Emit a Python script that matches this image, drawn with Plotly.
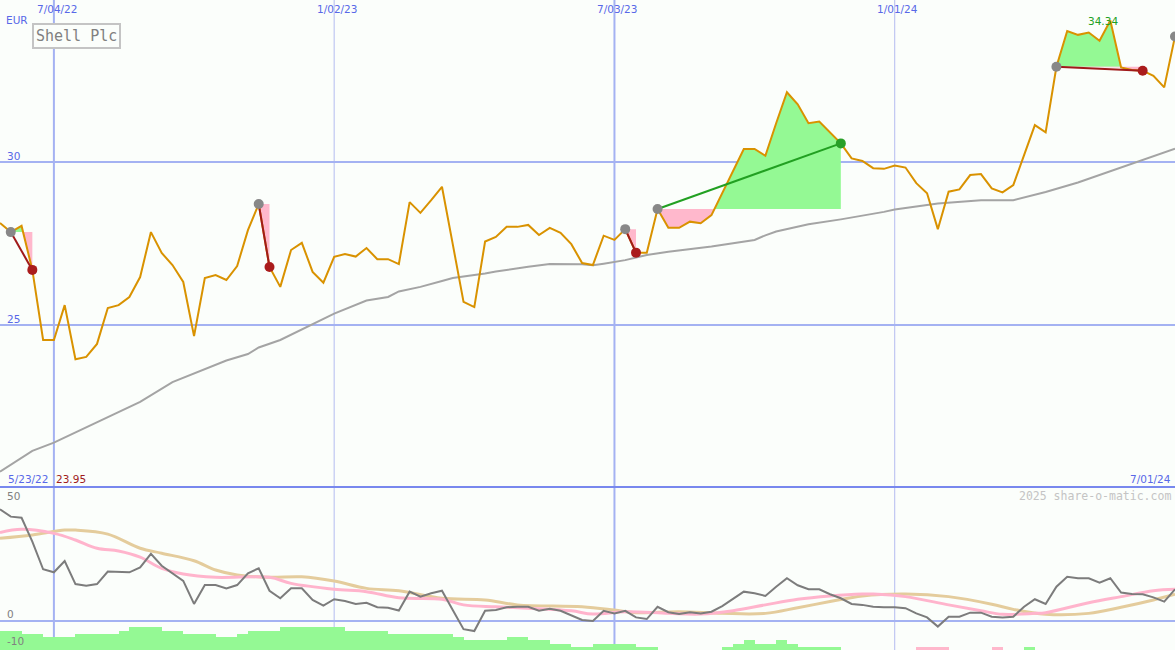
import numpy as np
import pandas as pd
import plotly.graph_objects as go

# ---------------- data ----------------
weeks = pd.date_range("2022-05-30", periods=110, freq="7D")

price = [28.13, 27.85, 28.04, 26.69, 24.54, 24.54, 25.61, 23.95, 24.02, 24.42,
         25.52, 25.61, 25.86, 26.47, 27.85, 27.21, 26.84, 26.32, 24.66, 26.44,
         26.53, 26.38, 26.81, 27.91, 28.71, 26.78, 26.17, 27.30, 27.52, 26.63,
         26.30, 27.09, 27.18, 27.10, 27.36, 27.02, 27.02, 26.87, 28.77, 28.44,
         28.83, 29.24, 27.48, 25.71, 25.55, 27.56, 27.70, 28.01, 28.01, 28.07,
         27.76, 27.98, 27.83, 27.48, 26.90, 26.84, 27.74, 27.61, 27.94, 27.22,
         27.22, 28.56, 27.98, 27.98, 28.17, 28.12, 28.37, 29.06, 29.70, 30.40,
         30.40, 30.19, 31.19, 32.14, 31.77, 31.19, 31.24, 30.90, 30.57, 30.11,
         30.03, 29.81, 29.79, 29.89, 29.83, 29.35, 29.04, 27.94, 29.09, 29.16,
         29.60, 29.63, 29.19, 29.07, 29.29, 30.21, 31.13, 30.91, 32.92, 34.02,
         33.90, 33.97, 33.72, 34.34, 32.90, 32.82, 32.80, 32.64, 32.29, 33.85]

ma_weeks = [0, 3, 5, 8, 11, 13, 16, 18, 21, 23, 24, 26, 29, 31, 34, 36, 37, 39, 41, 42,
            45, 46, 49, 51, 54, 55, 56, 58, 60, 62, 66, 68, 70, 71, 72, 75, 78, 82, 83,
            87, 91, 94, 97, 100, 103, 106, 109]
ma_values = [20.50, 21.14, 21.39, 21.86, 22.35, 22.64, 23.25, 23.51, 23.91, 24.11, 24.31,
             24.54, 25.03, 25.35, 25.75, 25.86, 26.03, 26.17, 26.35, 26.44, 26.58, 26.64,
             26.79, 26.87, 26.86, 26.83, 26.88, 26.99, 27.15, 27.25, 27.41, 27.52, 27.61,
             27.75, 27.87, 28.09, 28.24, 28.47, 28.54, 28.73, 28.83, 28.83, 29.08, 29.37,
             29.72, 30.05, 30.41]

# trades: (entry week, exit week, result)
trade_entry = [1, 24, 58, 61, 98]
trade_exit = [3, 25, 59, 78, 106]
trade_win = [False, False, False, True, False]
open_entry = [109]

osc = [47.2, 44.1, 43.6, 33.5, 21.8, 20.5, 25.3, 15.5, 14.8, 15.5,
       20.8, 20.5, 20.5, 22.6, 28.3, 23.3, 20.1, 16.9, 7.1, 15.1,
       15.1, 13.7, 15.1, 20.1, 22.2, 12.7, 9.5, 13.7, 13.7, 8.8,
       6.4, 9.1, 8.3, 7.1, 7.6, 5.7, 5.5, 4.3, 12.3, 10.2,
       11.6, 12.7, 4.5, -3.6, -4.4, 4.2, 4.5, 5.7, 5.9, 5.9,
       4.2, 5.0, 4.2, 2.4, 0.3, -0.1, 4.2, 3.1, 4.2, 1.4,
       0.7, 5.9, 3.6, 2.8, 3.6, 3.1, 3.8, 6.2, 9.1, 12.3,
       11.6, 10.5, 14.4, 18.0, 15.0, 13.3, 13.3, 11.2, 9.5, 7.1,
       6.7, 5.9, 5.7, 5.7, 5.3, 3.1, 1.4, -2.5, 1.7, 1.7,
       3.4, 3.4, 1.7, 1.3, 1.7, 5.9, 9.1, 7.1, 14.4, 18.6,
       18.0, 18.0, 16.1, 18.0, 11.9, 11.3, 11.2, 9.9, 8.1, 13.3]

pink_weeks = [0, 2, 5, 7, 9, 11, 13, 15, 17, 20, 25, 27, 31, 34, 37, 41, 43, 46, 49, 53,
              55, 58, 62, 65, 68, 71, 74, 77, 80, 81, 84, 88, 91, 93, 96, 97, 101, 104,
              107, 109]
pink_values = [37.3, 38.7, 37.0, 34.2, 30.7, 29.5, 26.9, 22.2, 19.8, 18.4, 18.4, 15.8,
               13.3, 12.3, 9.7, 9.1, 6.7, 5.9, 5.3, 4.2, 2.8, 3.8, 3.1, 2.8, 4.2, 6.7,
               9.1, 10.5, 11.3, 11.3, 10.2, 6.7, 4.2, 2.7, 3.1, 3.4, 7.6, 10.2, 12.7, 13.3]

tan_weeks = [0, 3, 6, 7, 10, 13, 15, 18, 20, 22, 25, 28, 31, 34, 37, 41, 45, 48, 54, 57,
             59, 63, 67, 71, 74, 77, 80, 84, 88, 92, 94, 97, 101, 104, 107, 109]
tan_values = [34.9, 36.3, 38.4, 38.4, 36.7, 30.7, 28.6, 25.4, 21.5, 19.4, 18.4, 18.6,
              16.8, 13.7, 12.7, 9.5, 8.8, 6.7, 5.9, 4.5, 3.4, 3.8, 3.1, 3.1, 5.5, 8.1,
              10.5, 11.3, 10.2, 7.0, 4.8, 2.7, 3.1, 5.7, 8.8, 11.2]

bar_levels = ([6, 6, 5, 5, 4, 4, 4, 5, 5, 5, 5, 6, 7, 7, 7, 6, 6, 5, 5, 5, 4, 4, 5, 6, 6, 6,
               7, 7, 7, 7, 7, 7, 6, 6, 6, 6, 5, 5, 5, 5, 5, 5, 4, 3, 3, 3, 3, 4, 4, 3, 3,
               2, 2, 1, 1, 2, 2, 2, 2, 1, 1, 0, 0, 0, 0, 0, 0, 1, 2, 3, 2, 2, 3, 2, 1, 1,
               1, 1, 0, 0, 0, 0, 0, 0, 0, -1, -1, -1, 0, 0, 0, 0, -1, 0, 0, 1]
              + [0] * 14)

date_ticks = ["2022-07-04", "2023-01-02", "2023-07-03", "2024-01-01"]
date_tick_labels = ["7/04/22", "1/02/23", "7/03/23", "1/01/24"]

# ---------------- styling ----------------
BG = "#fbfefb"
W, H = 1175, 650
GREEN_FILL = "#94f994"
PINK_FILL = "#ffb8cc"
ORANGE = "#d99200"
BLUE_TXT = "#5868e8"

fig = go.Figure()

t_ms = np.array([d.value // 10**6 for d in weeks], dtype=float)


def to_dt(v):
    return pd.to_datetime(np.array(v, dtype="int64"), unit="ms")


# fills between price and entry level
for a, b in zip(trade_entry, trade_exit):
    L = price[a]
    xs, ys = [t_ms[a]], [price[a]]
    for k in range(a, b):
        p0, p1 = price[k], price[k + 1]
        if (p0 - L) * (p1 - L) < 0:
            f = (L - p0) / (p1 - p0)
            xs.append(t_ms[k] + f * (t_ms[k + 1] - t_ms[k]))
            ys.append(L)
        xs.append(t_ms[k + 1])
        ys.append(p1)
    px = xs + [t_ms[b], t_ms[a]]
    up = [max(y, L) for y in ys] + [L, L]
    lo = [min(y, L) for y in ys] + [L, L]
    for yy, col in ((up, GREEN_FILL), (lo, PINK_FILL)):
        fig.add_trace(go.Scatter(x=to_dt(px), y=yy, mode="lines", fill="toself",
                                 fillcolor=col, line=dict(width=0), hoverinfo="skip",
                                 showlegend=False))

# moving average
fig.add_trace(go.Scatter(x=weeks[ma_weeks], y=ma_values, mode="lines",
                         line=dict(color="#a4a4a4", width=2), showlegend=False))
# price
fig.add_trace(go.Scatter(x=weeks, y=price, mode="lines",
                         line=dict(color=ORANGE, width=2), showlegend=False))

# trade lines and markers
for a, b, win in zip(trade_entry, trade_exit, trade_win):
    col = "#22a022" if win else "#a01a1a"
    fig.add_trace(go.Scatter(x=[weeks[a], weeks[b]], y=[price[a], price[b]], mode="lines",
                             line=dict(color=col, width=2), showlegend=False))
for a, b, win in zip(trade_entry, trade_exit, trade_win):
    col = "#28a028" if win else "#aa1c1c"
    fig.add_trace(go.Scatter(x=[weeks[a]], y=[price[a]], mode="markers",
                             marker=dict(color="#888888", size=10), showlegend=False))
    fig.add_trace(go.Scatter(x=[weeks[b]], y=[price[b]], mode="markers",
                             marker=dict(color=col, size=10), showlegend=False))
for a in open_entry:
    fig.add_trace(go.Scatter(x=[weeks[a]], y=[price[a]], mode="markers",
                             marker=dict(color="#888888", size=10), showlegend=False))

# lower panel
fig.add_trace(go.Bar(x=weeks, y=[abs(v) for v in bar_levels], yaxis="y3",
                     offset=0, width=7 * 24 * 3600 * 1000,
                     marker=dict(color=[GREEN_FILL if v > 0 else PINK_FILL for v in bar_levels],
                                 line=dict(width=0)),
                     showlegend=False))
fig.add_trace(go.Scatter(x=weeks[tan_weeks], y=tan_values, yaxis="y2", mode="lines",
                         line=dict(color="#e4cc9c", width=3, shape="spline"), showlegend=False))
fig.add_trace(go.Scatter(x=weeks[pink_weeks], y=pink_values, yaxis="y2", mode="lines",
                         line=dict(color="#ffb4cc", width=3, shape="spline"), showlegend=False))
fig.add_trace(go.Scatter(x=weeks, y=osc, yaxis="y2", mode="lines",
                         line=dict(color="#7c7c7c", width=2), showlegend=False))

split = 163 / H

shapes = []
for d, thick in zip(date_ticks, [True, False, True, False]):
    shapes.append(dict(type="line", xref="x", yref="paper", x0=d, x1=d, y0=0, y1=1,
                       layer="below",
                       line=dict(color="#a4b2f2" if thick else "#b4bcf0",
                                 width=2 if thick else 1)))
shapes.append(dict(type="line", xref="paper", yref="paper", x0=0, x1=1, y0=split, y1=split,
                   line=dict(color="#7888ee", width=2)))


def ann(text, x, y, color, size=10.5, xanchor="left", family="DejaVu Sans", **kw):
    return dict(text=text, x=x / W, y=1 - y / H, xref="paper", yref="paper",
                xanchor=xanchor, yanchor="middle", showarrow=False,
                font=dict(color=color, size=size, family=family), **kw)


annotations = [
    ann("EUR", 4, 20, BLUE_TXT),
    ann("30", 5, 156, BLUE_TXT),
    ann("25", 5, 319, BLUE_TXT),
    ann("5/23/22", 6, 479, BLUE_TXT),
    ann("23.95", 54, 479, "#a01c1c"),
    ann("7/01/24", 1173, 479, BLUE_TXT, xanchor="right"),
    ann("2025 share-o-matic.com", 1173, 496, "#c4c4c4", size=11.5, xanchor="right",
        family="DejaVu Sans Mono"),
    ann("50", 5, 496, "#808080"),
    ann("0", 5, 614, "#808080"),
    ann("-10", 5, 641, "#808080"),
    ann("34.34", 1103, 21, "#22a022", xanchor="center"),
    ann("Shell Plc", 32, 36, "#808080", size=15, family="DejaVu Sans Mono",
        bordercolor="#c4c4c4", borderwidth=2, borderpad=2, bgcolor=BG),
]
for d, lab in zip(date_ticks, date_tick_labels):
    xpix = (pd.Timestamp(d).value // 10**6 - t_ms[0]) / (t_ms[-1] - t_ms[0]) * W
    annotations.append(ann(lab, xpix + 3, 9, BLUE_TXT, xanchor="center"))

fig.update_layout(
    width=W, height=H, margin=dict(l=0, r=0, t=0, b=0, pad=0),
    paper_bgcolor=BG, plot_bgcolor=BG, showlegend=False,
    xaxis=dict(type="date", range=[weeks[0], weeks[-1]], showgrid=False, zeroline=False,
               showticklabels=False, showline=False, ticks=""),
    yaxis=dict(domain=[split, 1], range=[20.031, 34.969], tickvals=[25, 30],
               showgrid=True, gridcolor="#a4b2f2", gridwidth=2, showticklabels=False,
               zeroline=False, showline=False, ticks=""),
    yaxis2=dict(domain=[0, split], range=[-12.42, 56.65], anchor="x", tickvals=[0],
                showgrid=True, gridcolor="#a4b2f2", gridwidth=2, showticklabels=False,
                zeroline=False, showline=False, ticks=""),
    yaxis3=dict(domain=[0, split], range=[0, 50.15], overlaying="y2", anchor="x",
                showgrid=False, showticklabels=False, zeroline=False, showline=False),
    shapes=shapes, annotations=annotations, bargap=0,
)

fig.write_html("out.html", config={"displayModeBar": False},
               post_script="document.body.style.margin='0';document.body.style.padding='0';"
                           "document.body.style.overflow='hidden';")
